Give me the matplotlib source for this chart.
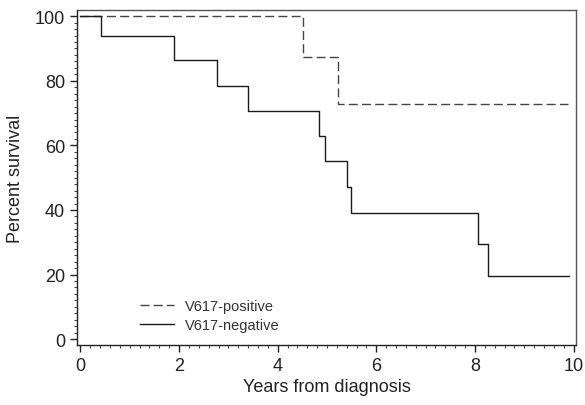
import numpy as np
import matplotlib
matplotlib.use('Agg')
import matplotlib.pyplot as plt
from matplotlib.ticker import MultipleLocator

plt.rcParams['font.family'] = ['Liberation Sans', 'DejaVu Sans']

# survival curves (years, percent), step after each time
pos_t = [0.0, 4.52, 5.23, 9.89]
pos_s = [100.0, 87.3, 72.7, 72.7]

neg_t = [0.0, 0.41, 1.89, 2.76, 3.40, 4.83, 4.96, 5.41, 5.48, 8.07, 8.26, 9.91]
neg_s = [100.0, 93.8, 86.4, 78.5, 70.6, 62.8, 55.2, 47.0, 39.1, 29.6, 19.5, 19.5]

xticks = [0, 2, 4, 6, 8, 10]
yticks = [0, 20, 40, 60, 80, 100]

fig = plt.figure(figsize=(5.85, 4.06), dpi=100)
ax = fig.add_axes([77/585, 1 - 346/406, (576 - 77)/585, (346 - 11)/406])

ax.step(pos_t, pos_s, where='post', color='#444444', lw=1.0, ls=(0, (6.5, 3)), label='V617-positive')
ax.step(neg_t, neg_s, where='post', color='#1a1a1a', lw=1.0, label='V617-negative')

ax.set_xlim(-0.07, 10.05)
ax.set_ylim(-1.8, 101.9)
ax.set_xticks(xticks)
ax.set_yticks(yticks)
ax.xaxis.set_minor_locator(MultipleLocator(0.2))
ax.yaxis.set_minor_locator(MultipleLocator(2))
ax.tick_params(which='major', direction='out', length=5, width=1, labelsize=13, colors='#222222')
ax.tick_params(which='minor', direction='out', length=2.5, width=0.8, colors='#444444')
for sp in ax.spines.values():
    sp.set_color('#555555')
    sp.set_linewidth(1)
ax.spines['bottom'].set_color('#222222')
ax.spines['left'].set_color('#222222')

ax.set_xlabel('Years from diagnosis', fontsize=13, color='#222222', labelpad=3)
ax.set_ylabel('Percent survival', fontsize=13, color='#222222', labelpad=8)

leg = ax.legend(loc='lower left', bbox_to_anchor=(0.10, 0.0), frameon=False,
                fontsize=10.5, handlelength=2.3, handletextpad=0.8, labelspacing=0.35)
for t in leg.get_texts():
    t.set_color('#333333')

fig.savefig('out.png', dpi=100)
